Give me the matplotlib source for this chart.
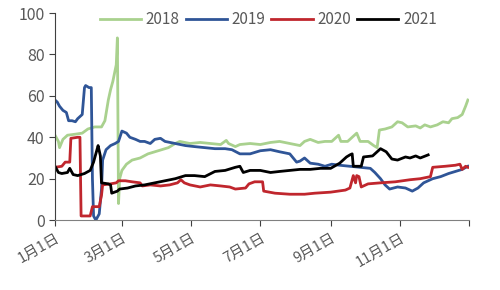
import matplotlib
matplotlib.use("Agg")
import matplotlib.pyplot as plt

plt.rcParams['font.family'] = ['Noto Sans CJK SC', 'DejaVu Sans']

# day of year -> value
d2018 = [0, 3, 4, 7, 11, 18, 24, 29, 35, 41, 44, 47, 49, 51, 54, 55, 56, 57, 59, 63, 68, 75, 82,
         88, 94, 100, 106, 110, 119, 128, 137, 146, 151, 153, 159, 163, 172, 181, 190, 198, 207,
         216, 220, 225, 232, 238, 244, 250, 252, 258, 266, 269, 276, 281, 284, 286, 291, 297,
         302, 306, 311, 318, 322, 326, 331, 337, 342, 347, 350, 355, 359, 362, 364]
v2018 = [41, 38, 35, 39, 41, 41.5, 42, 44, 45, 45, 48, 58, 63, 67, 75, 88, 8, 20, 24, 27, 29, 30, 32,
         33, 34, 35, 37, 38, 37, 37.5, 37, 36.5, 38.5, 37, 35.5, 36.5, 37, 36.5, 37.5, 38, 37,
         36, 38, 39, 37.5, 38, 38, 41, 38, 38, 42, 38, 38, 36, 35, 43.5, 44, 45,
         47.5, 47, 45, 45.5, 44.5, 46, 45, 46, 47.5, 47, 49, 49.5, 51, 55, 58]

d2019 = [0, 2, 4, 7, 10, 12, 15, 18, 20, 24, 26, 27, 30, 32, 33, 34, 36, 39, 41, 42, 45, 49, 53,
         56, 59, 63, 66, 71, 75, 79, 84, 88, 93, 97, 106, 115, 123, 132, 141, 150, 156, 163, 172,
         181, 190, 198, 207, 213, 216, 220, 225, 232, 238, 244, 251, 260, 269, 278, 282, 287,
         291, 295, 302, 309, 315, 320, 325, 333, 340, 347, 353, 359, 364]
v2019 = [58, 57, 55, 53, 52, 48, 48, 47.5, 49, 51, 64, 65, 64, 64, 20, 2, 0, 3, 15, 29, 34, 36, 37,
         38, 43, 42, 40, 39, 38, 38, 37, 39, 39.5, 38, 37, 36, 35.5, 35, 34.5, 34.5, 34, 32, 32,
         33.5, 34, 33, 32, 28, 28.5, 30, 27.5, 27, 26, 27, 26.5, 26, 25.5, 25, 23, 20,
         17, 15, 16, 15.5, 14, 15.5, 18, 20, 21, 22.5, 23.5, 24.5, 26]

d2020 = [0, 6, 9, 13, 14, 20, 22, 23, 31, 33, 39, 41, 42, 49, 54, 56, 62, 68, 75, 77, 84, 93, 101,
         108, 111, 114, 119, 128, 137, 146, 154, 159, 168, 171, 176, 183, 184, 194, 207, 220,
         229, 243, 256, 260, 263, 265, 266, 268, 270, 276, 287, 300, 313, 322, 331, 333, 344,
         353, 357, 359, 362, 364]
v2020 = [25.5, 26, 28, 28, 39.5, 40, 40, 2, 2, 6.5, 6.5, 12, 17, 17.5, 18, 19, 19, 18.5, 18, 16.5, 17, 16.5, 17,
         18, 19.5, 18, 17, 16, 17, 16.5, 16, 15, 15.5, 17.5, 18.5, 18.5, 14, 13, 12.5, 12.5,
         13, 13.5, 14.5, 15.5, 21.5, 18, 21.5, 21, 16, 17.5, 18, 18.5, 19.5, 20, 21, 25.5, 26,
         26.5, 27, 24.5, 26, 25.5]

d2021 = [0, 3, 6, 11, 13, 16, 20, 26, 31, 34, 37, 38, 40, 41, 47, 49, 50, 55, 57, 64, 71, 79, 88,
         97, 106, 115, 123, 132, 141, 150, 159, 163, 166, 172, 181, 190, 198, 207, 216, 225,
         234, 243, 251, 257, 260, 262, 263, 270, 272, 280, 284, 287, 292, 297, 302, 309, 313,
         318, 322, 329]
v2021 = [26, 23, 22.5, 23, 25, 22, 21.5, 22.5, 24, 28, 34, 36, 31, 18, 17.5, 17, 13, 14, 15, 15.5, 16.5, 17, 18,
         19, 20, 21.5, 21.5, 21, 23.5, 24, 25.5, 26, 23, 24, 24, 23, 23.5, 24, 24.5, 24.5,
         25, 25, 27.5, 30.5, 31.5, 32, 26, 26, 30.5, 31, 33, 34.5, 33, 29.5, 29, 30.5, 30,
         31, 30, 31.5]

tick_days = [0, 59, 120, 181, 243, 304, 365]
tick_labels = ['1月1日', '3月1日', '5月1日', '7月1日', '9月1日', '11月1日', '']

fig = plt.figure(figsize=(5, 2.9), dpi=100)
ax = fig.add_axes([0.11, 0.241, 0.828, 0.714])

ax.plot(d2018, v2018, color='#A9D18E', lw=2, label='2018')
ax.plot(d2019, v2019, color='#2F5597', lw=2, label='2019')
ax.plot(d2020, v2020, color='#C0262D', lw=2, label='2020')
ax.plot(d2021, v2021, color='black', lw=2, label='2021')

ax.set_xlim(0, 365)
ax.set_ylim(0, 100)
ax.set_yticks([0, 20, 40, 60, 80, 100])
ax.set_xticks(tick_days)
ax.set_xticklabels(tick_labels, rotation=30, ha='right', rotation_mode='anchor')

gray = '#595959'
ax.tick_params(axis='y', direction='out', length=4, labelsize=11.5, colors=gray)
ax.tick_params(axis='x', direction='out', length=4, labelsize=10.5, colors=gray)
ax.tick_params(axis='both', color='#404040')
for s in ['top', 'right']:
    ax.spines[s].set_visible(False)
ax.spines['left'].set_color('#404040')
ax.spines['bottom'].set_color('#808080')

leg = ax.legend(loc='upper center', bbox_to_anchor=(0.515, 1.075), ncol=4, frameon=False,
                fontsize=11, handlelength=2.7, columnspacing=0.4, handletextpad=0.3)
for t in leg.get_texts():
    t.set_color(gray)

fig.savefig('out.png', dpi=100)
